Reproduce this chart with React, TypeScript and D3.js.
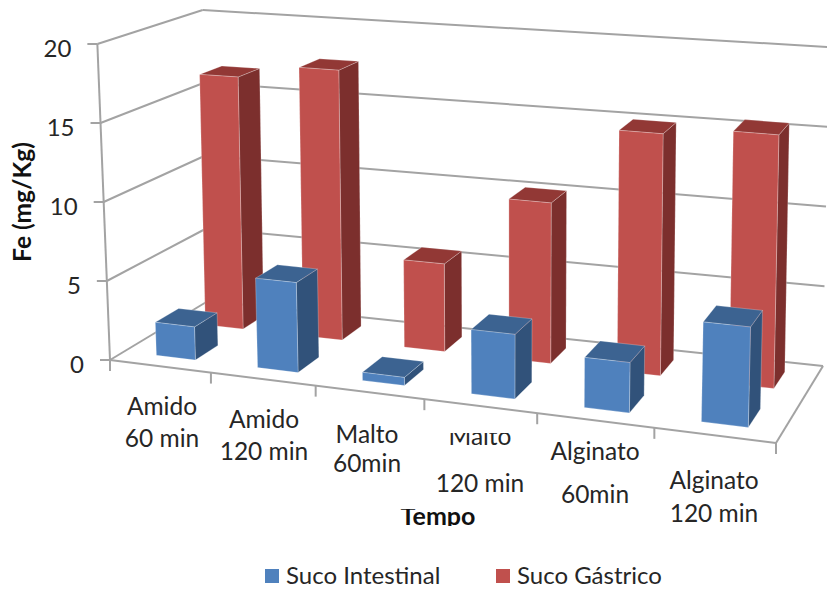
import React from "react";
import * as d3 from "d3";

const categories = ["Amido 60 min", "Amido 120 min", "Malto 60min", "Malto 120 min", "Alginato 60min", "Alginato 120 min"];
const sucoIntestinal = [2.1, 5.6, 0.5, 3.9, 3, 5.9];
const sucoGastrico = [16.6, 17.5, 5.6, 10.1, 15, 15.5];
const yTicks = [0, 5, 10, 15, 20];
const seriesNames = ["Suco Intestinal", "Suco Gástrico"];

type Pt = [number, number];

// Floor of the 3D box on screen: front-left, front-right, back-right, back-left.
const floorQuad: Pt[] = [[110, 360], [776, 443], [823, 366], [208, 301]];
// Screen height of the full 0-20 axis at those same four corners.
const cornerHeights = [316, 345, 319, 291];
// Vertical edges lean away from this x, more the further they are from it and nearer the viewer.
const VANISH_X = 510;
const LEAN_FRONT = 0.0001;
const LEAN_BACK = 0.00006;

// Projective map from the unit square (u along categories, v in depth) onto a quad.
function quadMap(q: Pt[]) {
  const [p0, p1, p2, p3] = q;
  const dx1 = p1[0] - p2[0], dx2 = p3[0] - p2[0], sx = p0[0] - p1[0] + p2[0] - p3[0];
  const dy1 = p1[1] - p2[1], dy2 = p3[1] - p2[1], sy = p0[1] - p1[1] + p2[1] - p3[1];
  const det = dx1 * dy2 - dx2 * dy1;
  const g = (sx * dy2 - dx2 * sy) / det;
  const h = (dx1 * sy - sx * dy1) / det;
  const a = p1[0] - p0[0] + g * p1[0], b = p3[0] - p0[0] + h * p3[0], c = p0[0];
  const d = p1[1] - p0[1] + g * p1[1], e = p3[1] - p0[1] + h * p3[1], f = p0[1];
  return (u: number, v: number): Pt => {
    const w = g * u + h * v + 1;
    return [(a * u + b * v + c) / w, (d * u + e * v + f) / w];
  };
}

const floorAt = quadMap(floorQuad);
const yFrac = d3.scaleLinear().domain([0, 20]).range([0, 1]);
const xBand = d3.scaleBand<number>().domain(d3.range(categories.length)).range([0, 1]);
const zBand = d3.scaleBand<number>().domain([0, 1]).range([0, 1]);

function project(uRaw: number, value: number, v: number): Pt {
  // Slightly flatter foreshortening along the category axis than the floor outline alone gives.
  const u = uRaw + 0.055 * uRaw * (1 - uRaw);
  const p = floorAt(u, v);
  const [h0, h1, h2, h3] = cornerHeights;
  const full = (h0 * (1 - u) + h1 * u) * (1 - v) + (h3 * (1 - u) + h2 * u) * v;
  const h = full * yFrac(value);
  const lean = LEAN_FRONT + (LEAN_BACK - LEAN_FRONT) * v;
  return [p[0] + (p[0] - VANISH_X) * lean * h, p[1] - h];
}

const poly = (pts: Pt[]) => pts.map((p) => p.map((n) => n.toFixed(1)).join(",")).join(" ");

const palette = [
  { front: "#4F81BD", side: "#31527A", top: "#3C6391" },
  { front: "#C0504D", side: "#7C2F2D", top: "#923835" },
];

const GRID = "#A3A3A3";
const FONT = "Lato, 'Open Sans', sans-serif";
const TEXT = "#262626";

function Bar({ cat, row, value }: { cat: number; row: number; value: number }) {
  const w = xBand.bandwidth();
  const inZ = zBand.bandwidth() * 0.27;
  const u0 = xBand(cat)! + w * 0.325;
  const u1 = xBand(cat)! + w * 0.715;
  const v0 = zBand(row)! + inZ;
  const v1 = zBand(row)! + zBand.bandwidth() - inZ;
  const c = palette[row];
  return (
    <g stroke="#fff" strokeOpacity={0.35} strokeWidth={0.7} strokeLinejoin="round">
      <polygon points={poly([project(u1, 0, v0), project(u1, 0, v1), project(u1, value, v1), project(u1, value, v0)])} fill={c.side} />
      <polygon points={poly([project(u0, value, v0), project(u1, value, v0), project(u1, value, v1), project(u0, value, v1)])} fill={c.top} />
      <polygon points={poly([project(u0, 0, v0), project(u1, 0, v0), project(u1, value, v0), project(u0, value, v0)])} fill={c.front} />
    </g>
  );
}

function Seg({ a, b, w = 2 }: { a: Pt; b: Pt; w?: number }) {
  return <line x1={a[0]} y1={a[1]} x2={b[0]} y2={b[1]} stroke={GRID} strokeWidth={w} />;
}

// Two-line category captions; some are cut by the chart's text boxes.
const labelLayout = [
  { x: 162, y: [415, 447] },
  { x: 264, y: [428, 460] },
  { x: 367, y: [443, 472] },
  { x: 480, y: [445, 492], clip: "clipTop" },
  { x: 595, y: [460, 503], clip: "clipBottom" },
  { x: 714, y: [489, 522] },
];
const labelLines = categories.map((c) => {
  const i = c.indexOf(" ");
  return [c.slice(0, i), c.slice(i + 1)];
});

export default function App() {
  return (
    <svg width={827} height={589} style={{ position: "absolute", left: 0, top: 0, background: "#fff" }} fontFamily={FONT}>
      <defs>
        <clipPath id="clipTop"><rect x={430} y={433} width={110} height={70} /></clipPath>
        <clipPath id="clipBottom"><rect x={530} y={430} width={130} height={73} /></clipPath>
        <clipPath id="clipTitle"><rect x={380} y={509} width={120} height={17} /></clipPath>
      </defs>

      {/* Wall gridlines and tick stubs */}
      {yTicks.map((t) => {
        const p = project(0, t, 0);
        return (
          <g key={t}>
            <Seg a={p} b={project(0, t, 1)} />
            <Seg a={project(0, t, 1)} b={project(1, t, 1)} />
            <Seg a={p} b={[p[0] - 10, p[1]]} />
            <text x={p[0] - 26} y={p[1] + 13} textAnchor="end" fontSize={24} fill={TEXT}>{t}</text>
          </g>
        );
      })}
      <Seg a={project(0, 0, 0)} b={project(0, 20, 0)} />
      <Seg a={project(0, 0, 0)} b={project(1, 0, 0)} />
      <Seg a={project(1, 0, 0)} b={project(1, 0, 1)} />
      {d3.range(categories.length + 1).map((i) => {
        const p = project(i / categories.length, 0, 0);
        return <Seg key={i} a={p} b={[p[0], p[1] + 11]} />;
      })}

      {/* Back row first so the front row overlaps it */}
      {sucoGastrico.map((v, i) => <Bar key={i} cat={i} row={1} value={v} />)}
      {sucoIntestinal.map((v, i) => <Bar key={i} cat={i} row={0} value={v} />)}

      {labelLayout.map((l, i) => (
        <g key={i} clipPath={l.clip ? `url(#${l.clip})` : undefined} fontSize={24.5} fill={TEXT} textAnchor="middle">
          <text x={l.x} y={l.y[0]}>{labelLines[i][0]}</text>
          <text x={l.x} y={l.y[1]}>{labelLines[i][1]}</text>
        </g>
      ))}

      <g clipPath="url(#clipTitle)">
        <text x={438} y={525} textAnchor="middle" fontSize={25} fontWeight={700} fill="#111">Tempo</text>
      </g>
      <text transform="translate(31,202) rotate(-90)" textAnchor="middle" fontSize={24.5} fontWeight={700} fill="#111">Fe (mg/Kg)</text>

      {/* Legend */}
      <rect x={265} y={569} width={14} height={14} fill={palette[0].front} />
      <text x={286} y={584} fontSize={24} fill={TEXT}>{seriesNames[0]}</text>
      <rect x={496} y={569} width={14} height={14} fill={palette[1].front} />
      <text x={517} y={584} fontSize={24} fill={TEXT}>{seriesNames[1]}</text>
    </svg>
  );
}
